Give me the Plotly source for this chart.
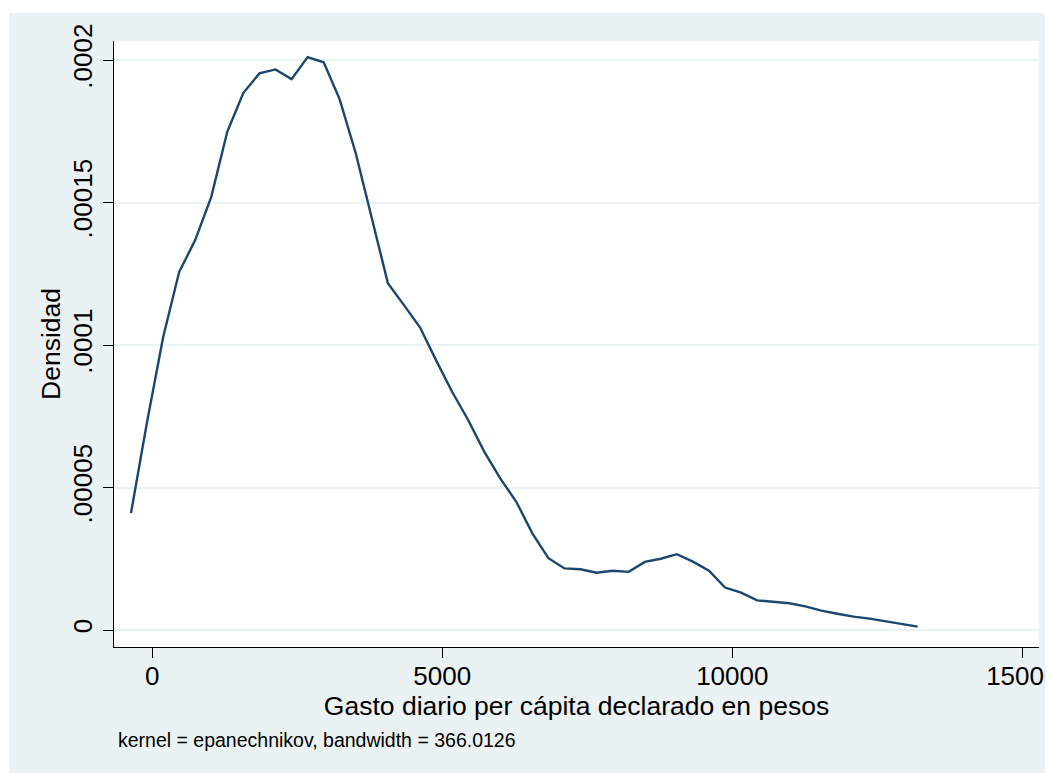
import plotly.graph_objects as go

# Kernel density estimate points
gasto = [-367, -90, 187, 463, 740, 1017, 1294, 1571, 1847, 2124,
         2401, 2678, 2955, 3231, 3508, 3785, 4062, 4339, 4615, 4892,
         5169, 5446, 5723, 5999, 6276, 6553, 6830, 7107, 7383, 7660,
         7937, 8214, 8491, 8767, 9044, 9321, 9598, 9875, 10151, 10428,
         10705, 10982, 11259, 11535, 11812, 12089, 12366, 12643, 12919, 13196]
densidad = [4.10e-5, 7.3e-5, 1.027e-4, 1.256e-4, 1.368e-4, 1.520e-4, 1.749e-4, 1.885e-4, 1.953e-4, 1.967e-4,
            1.933e-4, 2.010e-4, 1.992e-4, 1.862e-4, 1.673e-4, 1.445e-4, 1.217e-4, 1.140e-4, 1.062e-4, 9.47e-5,
            8.36e-5, 7.37e-5, 6.26e-5, 5.32e-5, 4.50e-5, 3.39e-5, 2.52e-5, 2.16e-5, 2.13e-5, 2.01e-5,
            2.08e-5, 2.04e-5, 2.39e-5, 2.50e-5, 2.66e-5, 2.40e-5, 2.08e-5, 1.49e-5, 1.31e-5, 1.04e-5,
            1.00e-5, 9.4e-6, 8.3e-6, 6.8e-6, 5.7e-6, 4.7e-6, 4.0e-6, 3.0e-6, 2.2e-6, 1.2e-6]

x_ticks = [0, 5000, 10000, 15000]
x_ticklabels = ["0", "5000", "10000", "15000"]
y_ticks = [0, 0.00005, 0.0001, 0.00015, 0.0002]
y_ticklabels = ["0", ".00005", ".0001", ".00015", ".0002"]

x_title = "Gasto diario per cápita declarado en pesos"
y_title = "Densidad"
note = "kernel = epanechnikov, bandwidth = 366.0126"

FONT = "Liberation Sans, Arial, Helvetica, sans-serif"
BG = "#EAF2F3"

W, H = 1045, 765
L, R, T, B = 106, 14, 33, 126
PW, PH = W - L - R, H - T - B

fig = go.Figure()
fig.add_trace(go.Scatter(x=gasto, y=densidad, mode="lines",
                         line=dict(color="#1A476F", width=2.4),
                         showlegend=False, hoverinfo="x+y"))

fig.update_layout(
    width=W, height=H,
    margin=dict(l=L, r=R, t=T, b=B),
    paper_bgcolor="white",
    plot_bgcolor="white",
    font=dict(family=FONT, color="black", size=26),
    shapes=[dict(type="rect", xref="paper", yref="paper", layer="below",
                 x0=(1 - L) / PW, x1=(W + 10 - L) / PW,
                 y0=(T + PH - H - 10) / PH, y1=(T + PH - 5) / PH,
                 fillcolor=BG, line=dict(width=0)),
            dict(type="rect", xref="paper", yref="paper", layer="below",
                 x0=0, x1=1, y0=0, y1=1,
                 fillcolor="white", line=dict(width=0))],
    annotations=[dict(text=note, xref="paper", yref="paper",
                      x=0.002, y=-0.1535,
                      xanchor="left", yanchor="middle", showarrow=False,
                      font=dict(family=FONT, size=19.5, color="black"))],
)

fig.update_xaxes(
    range=[-660, 15288],
    tickvals=x_ticks, ticktext=x_ticklabels,
    showgrid=False, zeroline=False,
    showline=True, linecolor="black", linewidth=1.3,
    ticks="outside", ticklen=10, tickwidth=1.3, tickcolor="black",
    tickfont=dict(size=26), ticklabelstandoff=-4,
    ticklabeloverflow="allow",
    title=dict(text=x_title, font=dict(size=26.5), standoff=0),
    automargin=False,
)
fig.update_yaxes(
    range=[-5.965e-6, 2.0667e-4],
    tickvals=y_ticks, ticktext=y_ticklabels, tickangle=-90,
    showgrid=True, gridcolor=BG, gridwidth=1.6,
    zeroline=False,
    showline=True, linecolor="black", linewidth=1.3,
    ticks="outside", ticklen=10, tickwidth=1.3, tickcolor="black",
    tickfont=dict(size=26),
    title=dict(text=y_title, font=dict(size=26.5), standoff=0),
    automargin=False,
)

fig.write_html("out.html")
